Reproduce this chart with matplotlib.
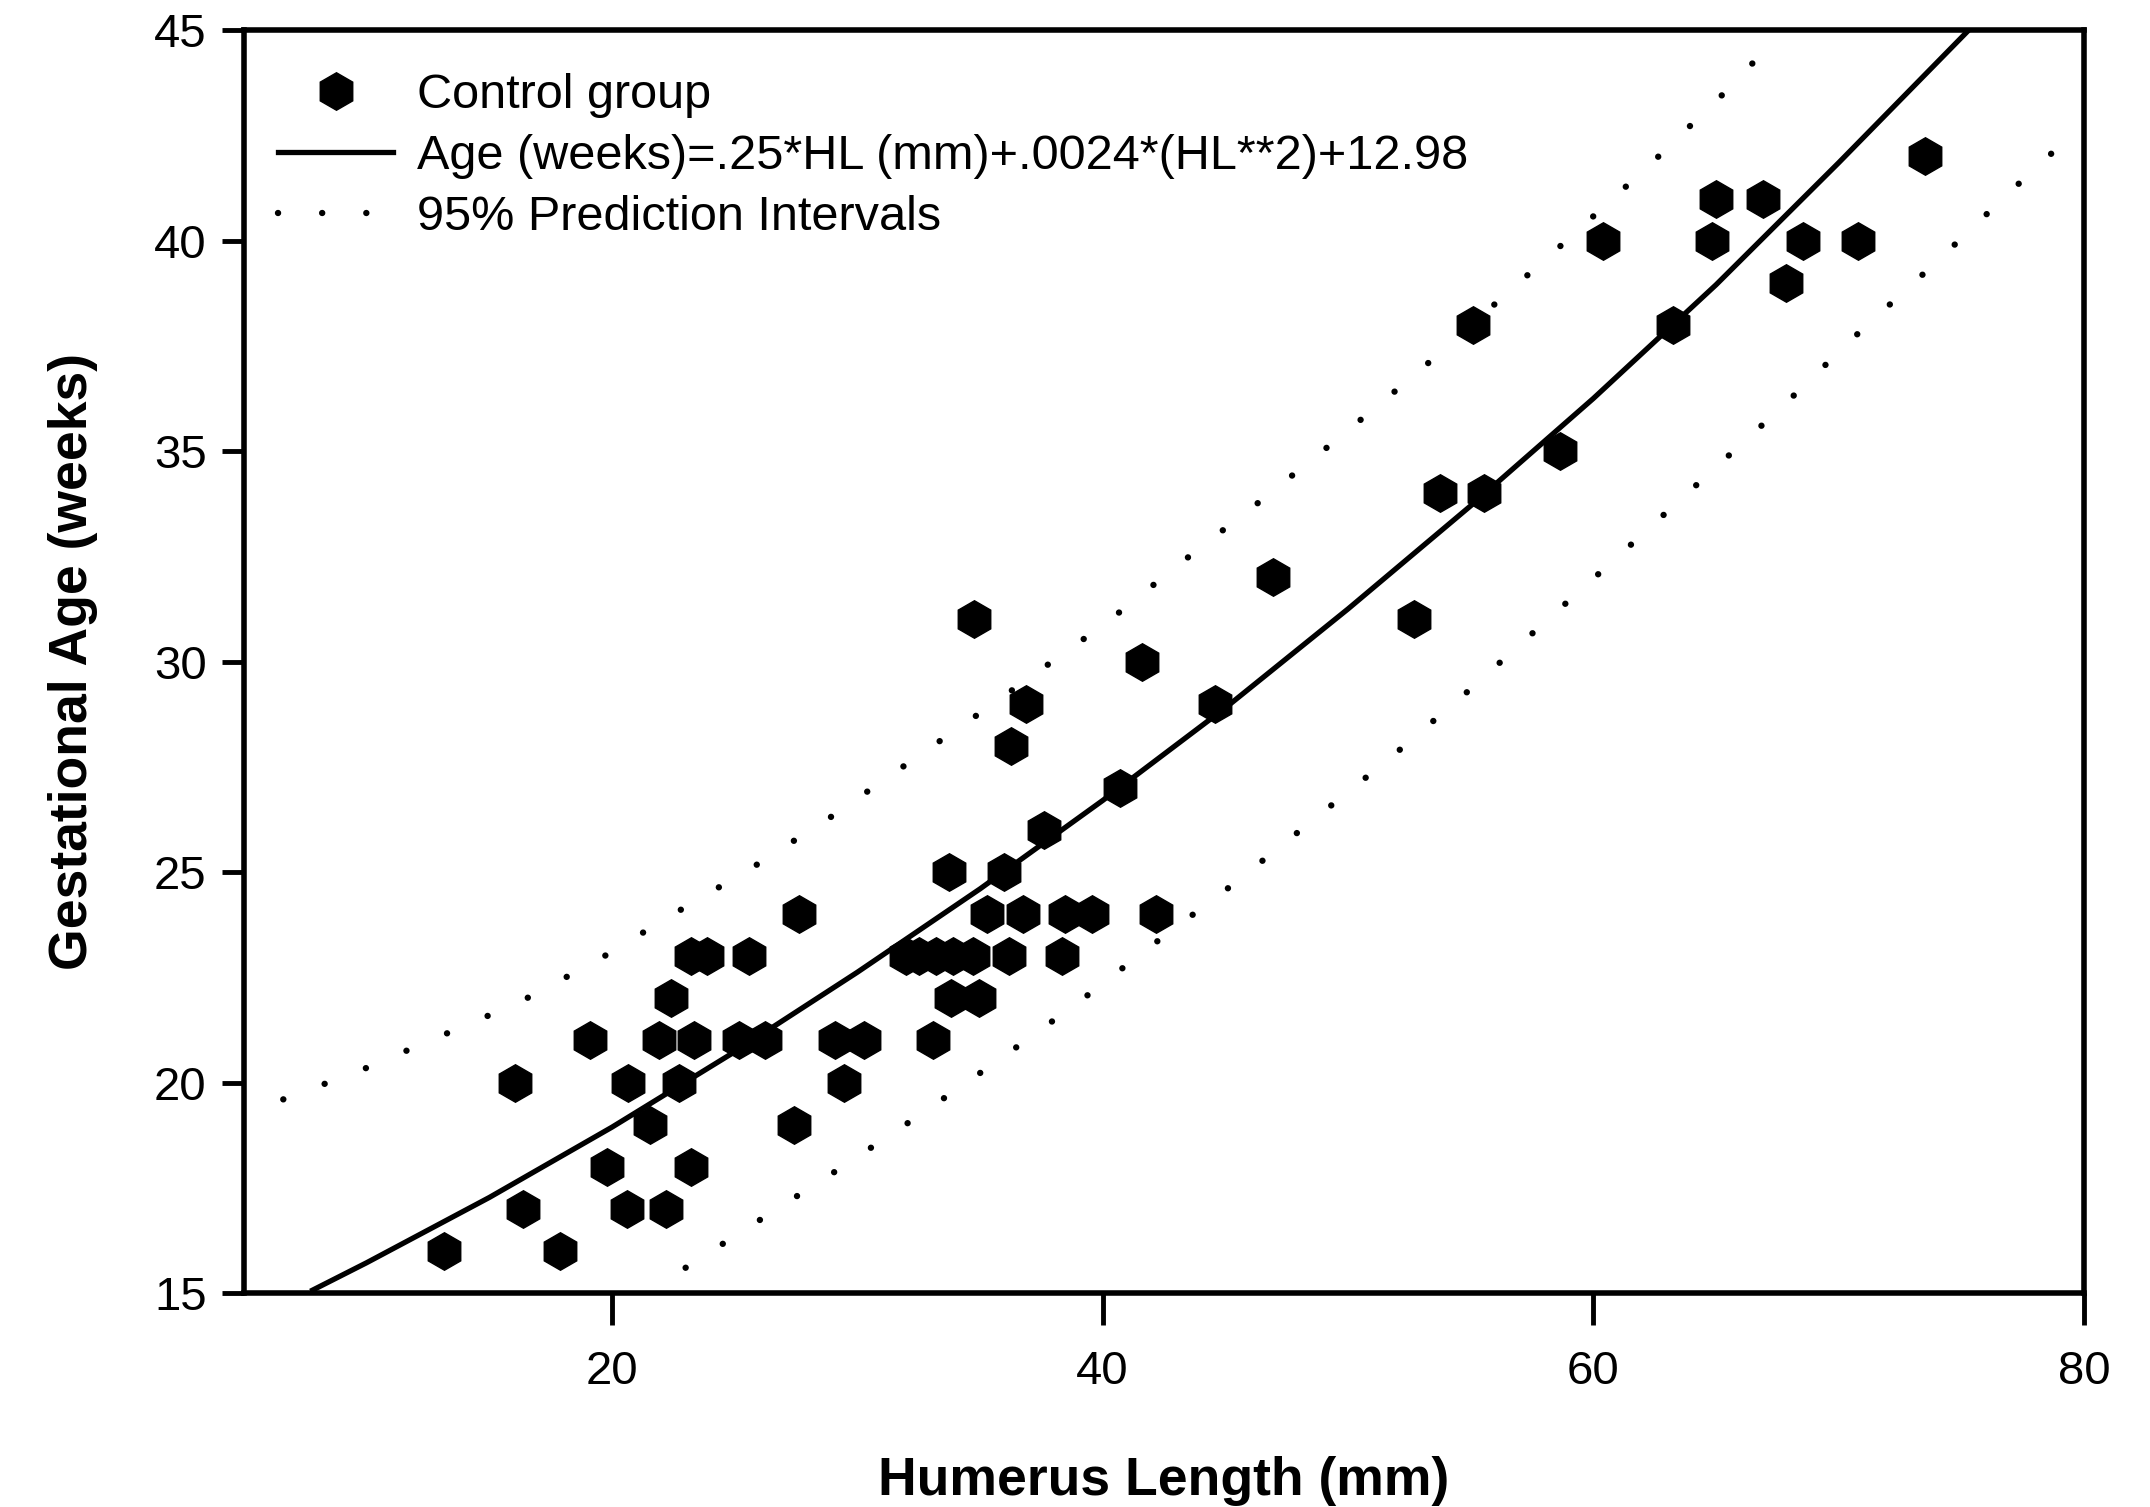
import matplotlib.pyplot as plt

plt.rcParams['font.family'] = ['Liberation Sans', 'DejaVu Sans']

# control group: humerus length (mm) vs gestational age (weeks)
hl = [13.15, 16.03, 16.38, 17.87, 19.1, 19.8, 20.66, 20.62, 21.54, 21.9,
      22.18, 22.41, 22.72, 23.2, 23.23, 23.33, 23.88, 25.17, 25.57, 26.25,
      27.43, 27.64, 29.1, 29.47, 30.26, 32.0, 32.5, 33.1, 33.2, 33.72,
      33.8, 33.9, 34.74, 34.7, 34.94, 35.28, 35.96, 36.2, 36.26, 36.77,
      36.88, 37.62, 38.34, 38.47, 39.56, 40.71, 41.6, 42.18, 44.58, 46.96,
      52.7, 53.75, 55.08, 55.54, 58.64, 60.4, 63.23, 64.84, 65.02, 66.92,
      67.85, 68.55, 70.79, 73.5]
age = [16, 20, 17, 16, 21, 18, 20, 17, 19, 21,
       17, 22, 20, 23, 18, 21, 23, 21, 23, 21,
       19, 24, 21, 20, 21, 23, 23, 21, 23, 25,
       22, 23, 31, 23, 22, 24, 25, 23, 28, 24,
       29, 26, 23, 24, 24, 27, 30, 24, 29, 32,
       31, 34, 38, 34, 35, 40, 38, 40, 41, 41,
       39, 40, 40, 42]

# regression curve
fit_hl = [7.8, 10, 15, 20, 25, 30, 35, 40, 45, 50, 55, 60, 65, 70, 75.3]
fit_age = [15.07, 15.72, 17.27, 18.94, 20.73, 22.62, 24.6, 26.7, 28.9,
           31.25, 33.7, 36.25, 38.95, 41.85, 45.0]

# 95% prediction intervals
upper_hl = [6.6, 9.8, 13.0, 16.2, 19.4, 22.5, 25.7, 28.9, 32.1, 35.3,
            40.1, 43.2, 46.4, 49.6, 52.8, 56.0, 59.1, 62.3, 65.5, 67.6]
upper_age = [19.6, 20.3, 21.1, 21.9, 22.9, 24.0, 25.1, 26.3, 27.6, 28.9,
             30.9, 32.35, 33.8, 35.3, 36.85, 38.5, 40.1, 41.8, 43.6, 44.9]
lower_hl = [23.0, 26.2, 29.4, 32.6, 35.8, 39.0, 42.1, 45.3, 48.5, 51.7,
            54.9, 58.05, 61.2, 64.4, 67.6, 70.8, 74.0, 77.15, 78.73]
lower_age = [15.6, 16.8, 18.0, 19.25, 20.55, 21.9, 23.3, 24.7, 26.2, 27.7,
             29.3, 30.95, 32.6, 34.3, 36.0, 37.8, 39.5, 41.25, 42.1]

fig, ax = plt.subplots(figsize=(21.5, 15.07), dpi=100)
fig.subplots_adjust(left=0.1135, right=0.9693, top=0.98, bottom=0.142)

ax.plot(hl, age, linestyle='none', marker='h', ms=27, color='black',
        label='Control group')
ax.plot(fit_hl, fit_age, color='black', lw=3.8,
        label='Age (weeks)=.25*HL (mm)+.0024*(HL**2)+12.98')
ax.plot(upper_hl, upper_age, color='black', lw=4.6, dashes=(0.01, 6.9),
        dash_capstyle='round', label='95% Prediction Intervals')
ax.plot(lower_hl, lower_age, color='black', lw=4.6, dashes=(0.01, 6.9),
        dash_capstyle='round')

ax.set_xlim(5, 80)
ax.set_ylim(15, 45)
ax.set_xticks([20, 40, 60, 80])
ax.set_yticks([15, 20, 25, 30, 35, 40, 45])

for s in ax.spines.values():
    s.set_linewidth(4)
ax.tick_params(axis='x', length=23, width=3.5, pad=18, labelsize=34)
ax.tick_params(axis='y', length=16, width=3.5, pad=11, labelsize=34)

ax.set_xlabel('Humerus Length (mm)', fontsize=38.5, fontweight='bold', labelpad=45)
ax.set_ylabel('Gestational Age (weeks)', fontsize=38.5, fontweight='bold', labelpad=40)

leg = ax.legend(loc='upper left', bbox_to_anchor=(0.0185, 0.966), frameon=False,
                fontsize=35, handlelength=2.37, handletextpad=0.49,
                labelspacing=0.33, borderpad=0, borderaxespad=0, numpoints=1)

fig.savefig('out.png', dpi=100)
